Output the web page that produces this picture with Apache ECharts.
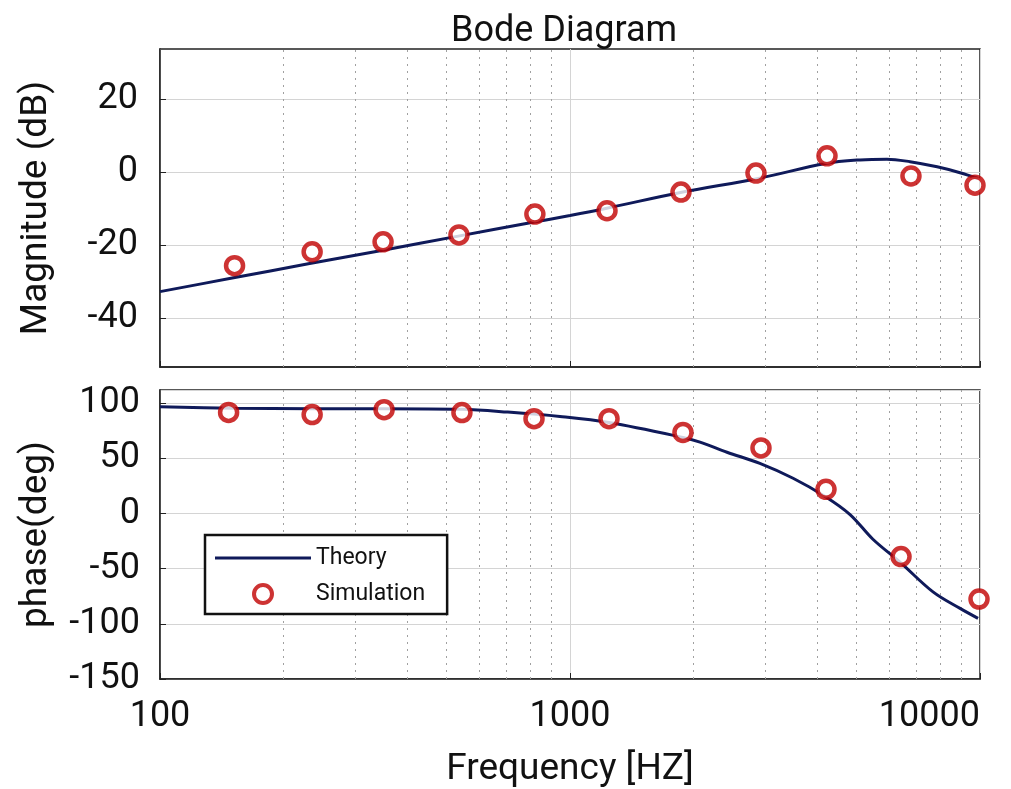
<!DOCTYPE html>
<html>
<head>
<meta charset="utf-8">
<title>Bode Diagram</title>
<script src="https://cdn.jsdelivr.net/npm/echarts@6/dist/echarts.min.js"></script>
<style>
html, body { margin: 0; padding: 0; background: #fff; }
#main { width: 1011px; height: 789px; }
</style>
</head>
<body>
<div id="main"></div>
<script>
// theory curve, magnitude (Hz / dB)
var magLineFreq = [100, 150, 230, 350, 530, 800, 1000, 1230, 1860, 2900, 4200, 5100, 5930, 6750, 7860, 8940, 9900];
var magLineVal = [-32.7, -29.0, -25.1, -21.4, -17.6, -13.9, -11.9, -9.9, -5.6, -1.7, 2.3, 3.3, 3.5, 2.8, 1.4, -0.2, -1.8];
// simulation points, magnitude
var magSimFreq = [152, 235, 350, 536, 821, 1231, 1865, 2842, 4235, 6786, 9723];
var magSimVal = [-25.6, -21.8, -19.1, -17.2, -11.5, -10.6, -5.5, -0.3, 4.4, -1.1, -3.6];
// theory curve, phase (Hz / deg)
var phaseLineFreq = [100, 150, 235, 350, 545, 705, 945, 1245, 1885, 2075, 2415, 2905, 3500, 4190, 4820, 5480, 6380, 7680, 8940, 9890];
var phaseLineVal = [96.9, 95.5, 95, 95, 94.5, 92, 88, 82.5, 69, 64.8, 55.6, 45.5, 32, 15.5, -0.9, -23.3, -44, -71, -86, -95];
// simulation points, phase
var phaseSimFreq = [147, 235, 352, 545, 817, 1245, 1886, 2923, 4211, 6418, 9945];
var phaseSimVal = [91.7, 89.7, 94.2, 91.5, 86, 86, 73.5, 59.5, 22, -39, -77.5];
// tick labels / minor grid
var magTicks = [-40, -20, 0, 20];
var minorFreq = [200, 300, 400, 500, 600, 700, 800, 900, 2000, 3000, 4000, 5000, 6000, 7000, 8000, 9000];

function zip(xs, ys) {
    return xs.map(function (x, i) { return [x, ys[i]]; });
}

var myChart = echarts.init(document.getElementById('main'));

var font = 'Roboto, "Noto Sans", sans-serif';
var frame = '#222';
var gridColor = '#d4d4d4';
var navy = '#0f1a5a';
var red = '#c00000';

var minorLines = {
    silent: true,
    symbol: 'none',
    z: 1,
    label: { show: false },
    emphasis: { disabled: true },
    lineStyle: { type: [2, 5], color: '#a0a0a0', width: 1 },
    data: minorFreq.map(function (f) { return { xAxis: f }; })
};

function xAxisCfg(idx, showLabel) {
    return {
        type: 'log',
        logBase: 10,
        gridIndex: idx,
        min: 100,
        max: 10000,
        axisLine: { onZero: false, lineStyle: { color: frame, width: 1.5 } },
        axisTick: { show: true, inside: true, length: 6, lineStyle: { color: frame } },
        splitLine: { show: true, lineStyle: { color: gridColor, width: 1 } },
        axisLabel: {
            show: showLabel,
            fontFamily: font,
            fontSize: 36,
            color: '#111',
            margin: 20,
            alignMaxLabel: 'right',
            formatter: function (v) { return String(Math.round(v)); }
        },
        name: showLabel ? 'Frequency [HZ]' : '',
        nameLocation: 'middle',
        nameGap: 72,
        nameTextStyle: { fontFamily: font, fontSize: 37, color: '#111' }
    };
}

var option = {
    backgroundColor: '#fff',
    animation: false,
    title: {
        text: 'Bode Diagram',
        left: 446,
        top: 9,
        textStyle: { fontFamily: font, fontSize: 36, fontWeight: 'normal', color: '#111' }
    },
    legend: {
        orient: 'vertical',
        left: 205,
        top: 535,
        padding: [9, 22, 6, 10],
        itemWidth: 96,
        itemHeight: 18,
        itemGap: 8,
        backgroundColor: '#fff',
        borderColor: '#111',
        borderWidth: 2.5,
        borderRadius: 0,
        textStyle: { fontFamily: font, fontSize: 23, color: '#111', lineHeight: 28 },
        data: [
            { name: 'Theory', icon: 'path://M0,0 L100,0 L100,3.2 L0,3.2 Z' },
            { name: 'Simulation', itemStyle: { color: '#fff', borderColor: red, borderWidth: 4 } }
        ]
    },
    grid: [
        { left: 160, right: 31, top: 49, height: 318, show: true, borderColor: frame, borderWidth: 1.5 },
        { left: 160, right: 31, top: 390, height: 292, show: true, borderColor: frame, borderWidth: 1.5 }
    ],
    xAxis: [xAxisCfg(0, false), xAxisCfg(1, true)],
    yAxis: [
        {
            type: 'value',
            gridIndex: 0,
            min: -53.3,
            max: 33.6,
            axisLine: { show: true, onZero: false, lineStyle: { color: frame, width: 1.5 } },
            axisTick: { show: true, inside: true, length: 6, customValues: magTicks, lineStyle: { color: frame } },
            splitLine: { show: true, lineStyle: { color: gridColor, width: 1 } },
            axisLabel: { fontFamily: font, fontSize: 36, color: '#111', margin: 22, customValues: magTicks },
            name: 'Magnitude (dB)',
            nameLocation: 'middle',
            nameGap: 105,
            nameTextStyle: { fontFamily: font, fontSize: 37, color: '#111' }
        },
        {
            type: 'value',
            gridIndex: 1,
            min: -150,
            max: 112,
            interval: 50,
            axisLine: { show: true, onZero: false, lineStyle: { color: frame, width: 1.5 } },
            axisTick: { show: true, inside: true, length: 6, lineStyle: { color: frame } },
            splitLine: { show: true, lineStyle: { color: gridColor, width: 1 } },
            axisLabel: { fontFamily: font, fontSize: 36, color: '#111', margin: 20 },
            name: 'phase(deg)',
            nameLocation: 'middle',
            nameGap: 105,
            nameTextStyle: { fontFamily: font, fontSize: 37, color: '#111' }
        }
    ],
    series: [
        {
            name: 'Theory',
            type: 'line',
            xAxisIndex: 0,
            yAxisIndex: 0,
            data: zip(magLineFreq, magLineVal),
            smooth: 0.35,
            symbol: 'none',
            z: 3,
            lineStyle: { color: navy, width: 3 },
            itemStyle: { color: navy },
            markLine: minorLines
        },
        {
            name: 'Simulation',
            type: 'scatter',
            xAxisIndex: 0,
            yAxisIndex: 0,
            data: zip(magSimFreq, magSimVal),
            symbol: 'circle',
            symbolSize: 17,
            z: 4,
            itemStyle: { color: '#fff', borderColor: red, borderWidth: 4.5 }
        },
        {
            name: 'Theory',
            type: 'line',
            xAxisIndex: 1,
            yAxisIndex: 1,
            data: zip(phaseLineFreq, phaseLineVal),
            smooth: 0.35,
            symbol: 'none',
            z: 3,
            lineStyle: { color: navy, width: 3 },
            itemStyle: { color: navy },
            markLine: minorLines
        },
        {
            name: 'Simulation',
            type: 'scatter',
            xAxisIndex: 1,
            yAxisIndex: 1,
            data: zip(phaseSimFreq, phaseSimVal),
            symbol: 'circle',
            symbolSize: 17,
            z: 4,
            itemStyle: { color: '#fff', borderColor: red, borderWidth: 4.5 }
        }
    ]
};

myChart.setOption(option);
</script>
</body>
</html>
